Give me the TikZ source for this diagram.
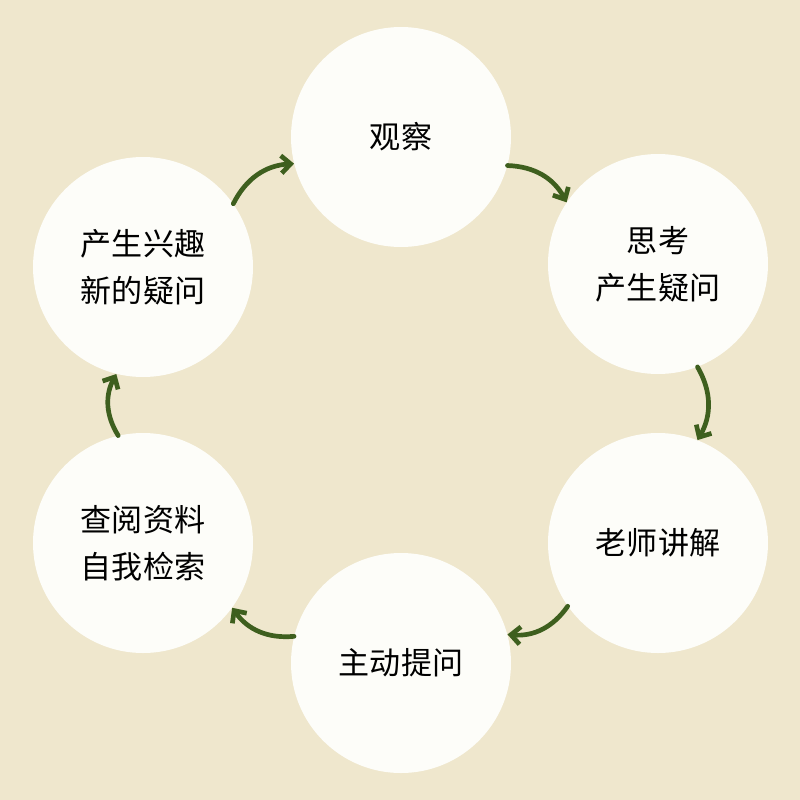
\documentclass[tikz,border=0pt]{standalone}
\usepackage{fontspec}
\setmainfont{Noto Sans CJK SC}
\usetikzlibrary{arrows.meta}
\definecolor{bgcolor}{RGB}{239, 231, 205}
\definecolor{circlecolor}{RGB}{253, 253, 249}
\definecolor{arrowcolor}{RGB}{62, 95, 30}

\begin{document}
\begin{tikzpicture}[x=0.03cm, y=-0.03cm,
    step node/.style={circle, fill=circlecolor, minimum size=6.6cm, inner sep=0pt, align=center,
      font=\fontsize{26.5pt}{40pt}\selectfont},
    arrow/.style={-{Straight Barb[length=8pt, width=15pt]}, line width=4pt, arrowcolor, line cap=round, bend left=30}
]
    % Background
    \fill[bgcolor] (0,0) rectangle (800,800);
    \useasboundingbox (0,0) rectangle (800,800);

    % Steps
    \node[step node] (observe) at (401,137) {观察};
    \node[step node] (think) at (658,264) {思考\\产生疑问};
    \node[step node] (teach) at (658,543) {老师讲解};
    \node[step node] (ask) at (401,663) {主动提问};
    \node[step node] (search) at (143,543) {查阅资料\\自我检索};
    \node[step node] (interest) at (143,267) {产生兴趣\\新的疑问};

    % Cycle arrows
    \draw[arrow] (interest.35) to (observe.194);
    \draw[arrow] (observe.-15) to (think.146);
    \draw[arrow] (think.-69) to (teach.69);
    \draw[arrow] (teach.215) to (ask.15);
    \draw[arrow] (ask.166) to (search.-36);
    \draw[arrow] (search.103) to (interest.-104);
\end{tikzpicture}
\end{document}
